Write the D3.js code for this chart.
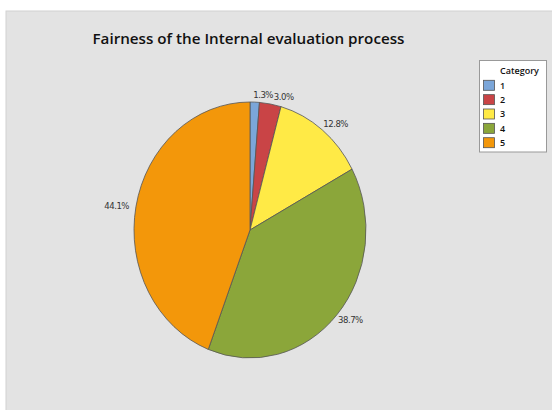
<!DOCTYPE html>
<html><head><meta charset="utf-8">
<script src="https://cdn.jsdelivr.net/npm/d3@7"></script>
<style>body{margin:0;background:#fff}svg{display:block}</style>
</head><body>
<svg id="c" width="552" height="410"></svg>
<script>
const categories = ["1", "2", "3", "4", "5"];
const values = [1.3, 3.0, 12.8, 38.7, 44.1];
const labels = ["1.3%", "3.0%", "12.8%", "38.7%", "44.1%"];
const colors = ["#7ba6d9", "#c94446", "#ffea46", "#8ba63a", "#f3970a"];
const title = "Fairness of the Internal evaluation process";
const legendTitle = "Category";

const svg = d3.select("#c");
svg.append("rect").attr("x", 6).attr("y", 11).attr("width", 552).attr("height", 410)
  .attr("fill", "#e3e3e3").attr("stroke", "#d2d2d2").attr("stroke-width", 1);

svg.append("text").attr("x", 248.5).attr("y", 44).attr("text-anchor", "middle")
  .attr("font-family", "'Open Sans', sans-serif").attr("font-weight", 600)
  .attr("font-size", 15.2).attr("fill", "#111").text(title);

const cx = 250, cy = 230, rx = 116, ry = 128;
const R = ry;
const sx = rx / ry;
const pie = d3.pie().sort(null).value(d => d)(values);
const arc = d3.arc().innerRadius(0).outerRadius(R);
const g = svg.append("g").attr("transform", `translate(${cx},${cy}) scale(${sx},1)`);
g.selectAll("path").data(pie).join("path")
  .attr("d", arc).attr("fill", (d, i) => colors[i])
  .attr("stroke", "#555").attr("stroke-width", 0.8)
  .attr("vector-effect", "non-scaling-stroke");

const lg = svg.append("g");
const texts = [];
pie.forEach((d, i) => {
  const a = (d.startAngle + d.endAngle) / 2;
  const px = cx + Math.sin(a) * rx;
  const py = cy - Math.cos(a) * ry;
  const right = Math.sin(a) >= 0;
  const c = Math.cos(a);
  const ty = py - c * 8 + 3.5;
  const t = lg.append("text")
    .attr("x", right ? px + 1 : px - 7)
    .attr("y", ty)
    .attr("text-anchor", right ? "start" : "end")
    .attr("font-family", "'DejaVu Sans Condensed', 'DejaVu Sans', sans-serif")
    .attr("font-size", 9.5).attr("letter-spacing", -0.5).attr("fill", "#333")
    .text(labels[i]);
  texts.push(t);
});
// separate the two small top labels slightly so they don't collide
{
  const b0 = texts[0].node().getBBox(), b1 = texts[1].node().getBBox();
  const ov = b0.x + b0.width - b1.x + 0.5;
  if (ov > 0) {
    texts[0].attr("x", +texts[0].attr("x") - ov / 2);
    texts[1].attr("x", +texts[1].attr("x") + ov / 2);
  }
}

const leg = svg.append("g");
leg.append("rect").attr("x", 479.5).attr("y", 60.5).attr("width", 67).attr("height", 91.5)
  .attr("fill", "#fff").attr("stroke", "#999").attr("stroke-width", 1);
leg.append("text").attr("x", 500).attr("y", 74)
  .attr("font-family", "'Open Sans', sans-serif").attr("font-weight", 600)
  .attr("font-size", 9).attr("fill", "#111").text(legendTitle);
const ly = d3.scalePoint().domain(categories).range([85.3, 142.7]);
categories.forEach((c, i) => {
  leg.append("rect").attr("x", 483.5).attr("y", ly(c) - 5).attr("width", 11).attr("height", 10)
    .attr("fill", colors[i]).attr("stroke", "#555").attr("stroke-width", 0.8);
  leg.append("text").attr("x", 500).attr("y", ly(c) + 3.2)
    .attr("font-family", "'Open Sans', sans-serif").attr("font-weight", 600)
    .attr("font-size", 9).attr("fill", "#111").text(c);
});
</script>
</body></html>
